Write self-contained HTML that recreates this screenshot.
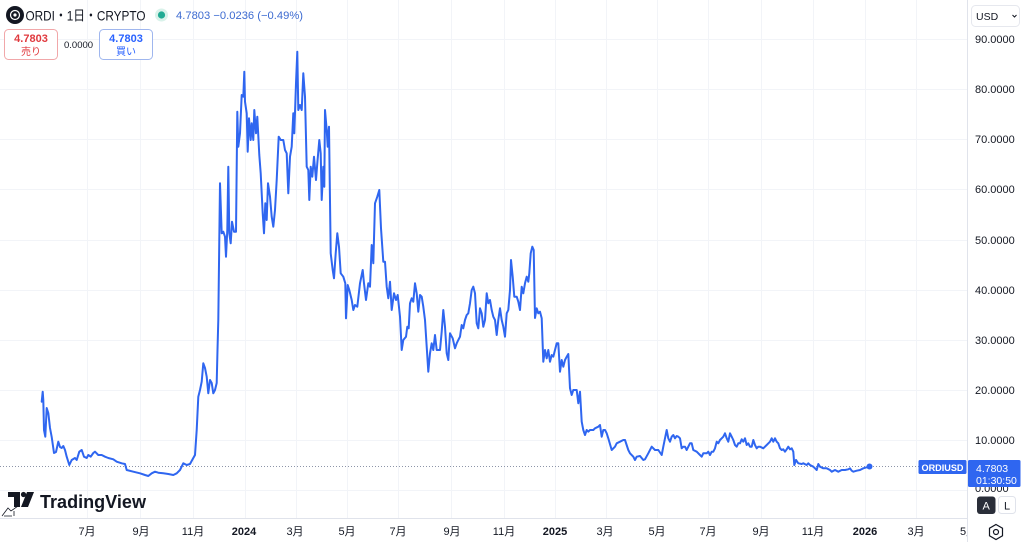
<!DOCTYPE html>
<html><head><meta charset="utf-8"><style>
html,body{margin:0;padding:0;background:#fff;}
svg{display:block;font-family:"Liberation Sans","Noto Sans CJK JP",sans-serif;}
</style></head><body>
<svg width="1024" height="542" viewBox="0 0 1024 542" xmlns="http://www.w3.org/2000/svg">
<rect width="1024" height="542" fill="#fff"/>
<!-- grid -->
<g stroke="#f2f4f8" stroke-width="1">
<line x1="0" y1="39.5" x2="967" y2="39.5"/><line x1="0" y1="89.5" x2="967" y2="89.5"/>
<line x1="0" y1="139.5" x2="967" y2="139.5"/><line x1="0" y1="189.5" x2="967" y2="189.5"/>
<line x1="0" y1="240.5" x2="967" y2="240.5"/><line x1="0" y1="290.5" x2="967" y2="290.5"/>
<line x1="0" y1="340.5" x2="967" y2="340.5"/><line x1="0" y1="390.5" x2="967" y2="390.5"/>
<line x1="0" y1="440.5" x2="967" y2="440.5"/><line x1="0" y1="490.5" x2="967" y2="490.5"/>
<line x1="87.5" y1="0" x2="87.5" y2="518"/><line x1="140.5" y1="0" x2="140.5" y2="518"/>
<line x1="193.5" y1="0" x2="193.5" y2="518"/><line x1="245.5" y1="0" x2="245.5" y2="518"/>
<line x1="296.5" y1="0" x2="296.5" y2="518"/><line x1="347.5" y1="0" x2="347.5" y2="518"/>
<line x1="398.5" y1="0" x2="398.5" y2="518"/><line x1="451.5" y1="0" x2="451.5" y2="518"/>
<line x1="504.5" y1="0" x2="504.5" y2="518"/><line x1="555.5" y1="0" x2="555.5" y2="518"/>
<line x1="606.5" y1="0" x2="606.5" y2="518"/><line x1="657.5" y1="0" x2="657.5" y2="518"/>
<line x1="708.5" y1="0" x2="708.5" y2="518"/><line x1="761.5" y1="0" x2="761.5" y2="518"/>
<line x1="813.5" y1="0" x2="813.5" y2="518"/><line x1="865.5" y1="0" x2="865.5" y2="518"/>
<line x1="916.5" y1="0" x2="916.5" y2="518"/>
</g>
<!-- axis separators -->
<line x1="967.5" y1="0" x2="967.5" y2="542" stroke="#e0e3eb"/>
<line x1="0" y1="518.5" x2="967" y2="518.5" stroke="#e0e3eb"/>
<!-- price dotted line -->
<line x1="0" y1="466.5" x2="919" y2="466.5" stroke="#8d95a8" stroke-width="1" stroke-dasharray="1,2"/>
<!-- series -->
<polyline fill="none" stroke="#2f66f0" stroke-width="2" stroke-linejoin="round" stroke-linecap="round" points="
41.7,401.7 42.7,391.7 43.3,400 44,430 45.3,436.7 46.7,408 48.3,413 50,428 51.7,437 54,453 56,452 58.3,441.7 60,447 61.7,448 63.3,446 65,450 66.7,456.7 69.3,465 71.7,460 75,458 76.7,460 79.3,451.7 81.7,450 84,456.7 86.7,458 88.3,455 90.7,456.7 93.3,453 95,451.7 98.3,455 101.7,455 105,456.7 108.3,458 113.3,459.3 116.7,461.7 121.7,463.3 125,464 126.7,470 133.3,471.7 140,473.3 145,475 148.3,476 151.7,473.3 155,471.7 158.3,472.7 163.3,473.3 168.3,474 173.3,475 176.7,473.3 180,470 183.3,463.3 186.7,465 190,464 193.3,458 195,455 196.7,430 198.3,396.7 200,390 201.7,381.7 203.3,363.3 205,368 206.7,376.7 208.3,393.3 210,380 211.7,383 213.3,393.3 215,390 216.7,383 217.5,350 218.3,320
220,183.3 221.7,233.3 223.3,231.7 225,236.7 226,256.7 227.3,230 228.3,166.7 229.3,233.3 230.7,243.3 232,221.7 234,231.7 236,231.7 237.3,111.7 238.3,146.7 240,133.3 241.7,95 243.3,96.7 244.3,71.7 245,101.7 246.7,113.3 247.7,151.7 249,118.3 250.7,140 251.7,123.3 253.3,140 254.3,110 256,133.3 257.3,116.7 259.3,155 260.7,173.3 262.7,213.3 264,233.3 265.3,203.3 266.7,220 268,183.3 270,196.7 271.7,216.7 273.3,226.7 275,210 276.7,180 278.7,136.7 280.7,140 283.3,140 285,150 286.7,153.3 288.3,193.3 290,156.7 291.7,146.7 293.3,113.3 294.3,133.3 296,83.3 297.3,51.7 298.3,110 300,105 301.7,110 303.3,73.3 305,96.7 306.7,166.7 308.3,170 309.3,200 310.7,166.7 312.3,176.7 314,156.7 316,180 317.3,163.3 319.3,140 320.7,153.3 321.7,200 323.3,166.7 324.3,186.7 325,110 326.7,130 327.7,146.7 329,126.7 330.7,253.3 332.7,270 334,278.3 335.7,253.3 337.3,233.3 339,246.7 340.7,273.3 343.3,276.7 345.3,283.3 346,318.3 347.7,285
349.3,290 351.7,300 353.3,310 355,305 357.3,306.7 360,283.3 362.7,270 364,283.3 366,300 368.3,283.3 370,286.7 371.7,245 373.3,263.3 375,203.3 377.3,196.7 379.3,190 381,228.3 383.3,261.7 385,261.7 386.7,286.7 388.3,298.3 390,281.7 391.7,310 394,293.3 396,300 397.7,295 400,316.7 401.7,350 403.3,340 406,336.7 407.3,326.7 408.7,328.3 410,303.3 411.7,298.3 413.3,301.7 415,283.3 416.7,293.3 418.3,311.7 420,295 421.7,296.7 423.3,306.7 425,320 426.7,346.7 428.3,371.7 430,353.3 431.7,343.3 433.3,350 435,335 436.7,350 438.3,350 440,350 441.7,331.7 443.3,310 445,326.7 446.7,353.3 448.3,360 450,333.3 452.7,338.3 455,348.3 456.7,343.3 458.3,340 460,336.7 461.7,325 463.3,328.3 465,320 466.7,315 468.3,313.3 470,303.3 471.7,290 473.3,286.7 475,293.3 476.7,323.3 478.3,328.3 480,308.3 481.7,313.3 483.3,326.7 485,320 486.7,293.3 488.3,303.3 490,300 491.7,310 493.3,316.7 495,320 496.7,335 498.3,320 500,308.3 501.7,320 503.3,326.7 505,336.7 506.7,313.3 508.3,310 510,290 511,260 512.7,276.7 514.3,296.7 516.7,296.7 518.3,301.7 520,310 521.7,286.7 523.3,293.3 525,283.3 526.7,276.7 528.3,281.7 529.3,273.3 530.7,253.3 532.3,246.7 533.7,250 535,318 536.7,308.3 538.3,313.3 540,311.7 541.7,318.3 543.3,361.7 545,350 546.7,358.3 548.3,350 550,361.7 551.7,355 553.3,356.7 556.7,343.3 558.3,343.3 560,371.7 561.7,360 563.3,366.7 565,360 566.7,356.7 568.3,354 570,388.3 571.7,395 573.3,390 576.7,390 578.3,403.3 580,391.7 581.7,421.7 583.3,430 585,435 586.7,430 588.3,431.7 590,430 593.3,430 595,428.3 598.3,426.7 600,425 601.7,436.7 603.3,430 605,430 606.7,433.3 608.3,438.3 611.7,450 615,446.7 616.7,443.3 620,441.7 623.3,440 625,440 628.3,450 630,453.3 633.3,456.7 635,460 636.7,456.7 640,456 643.3,460 645,459.3 648.3,453.3 651.7,446.7 655,450 658.3,450 661.7,455 663.3,446.7 665,438.3 666.7,430 668.3,438.3 670,441.7
671.7,436.7 673.3,435 675,438.3 676.7,436 678.3,436.7 680,438.3 681.7,448.3 683.3,446.7 685,446.7 686.7,450 688.3,446.7 690,443.3 691.7,443.3 693.3,450 696.7,451.7 700,455 701.7,456.7 703.3,453.3 706.7,453.3 708.3,451.7 710,455 711.7,451.7 713.3,451.7 715,448.3 716.7,441.7 718.3,443.3 720,440 721.7,438.3 723.3,436.7 725,433.3 726.7,438.3 728.3,441.7 730,433.3 731.7,436.7 733.3,440 735,445 736.7,446.7 738.3,443.3 740,443.3 741.7,439.3 743.3,441.7 745,438.3 746.7,445 748.3,443.3 750,446.7 751.7,446.7 753.3,440 755,445 756.7,448.3 758.3,446.7 760,446.7 763.3,448.3 766.7,445 770,441.7 771.7,438.3 773.3,441.7 775,438.3 776.7,441.7 778.3,443.3 780,448.3 781.7,450 783.3,449.3 785,451.7 786.7,449.3 788.3,446.7 790,449.3 791.7,448.3 793.3,451.7 794.3,465 796,460 798.3,463.3 801.7,464 803.3,463.3 806.7,465 808.3,463.3 810,465 813.3,466.7 815,468.3 816.7,470 818.3,464 820,466.7 823.3,468.3 826.7,468.3 830,470 831.7,471.7 835,470 838.3,471.7 841.7,470 845,470 848.3,469.3 850,468.3 851.7,470.7 853.3,471.7 856.7,470.7 860,470 863.3,468.3 866.7,467.3 869.5,466.5"/>
<circle cx="869.5" cy="466.5" r="3" fill="#2f66f0"/>

<!-- y axis labels -->
<g font-size="11" fill="#131722">
<text x="975" y="43">90.0000</text><text x="975" y="93">80.0000</text>
<text x="975" y="143">70.0000</text><text x="975" y="193">60.0000</text>
<text x="975" y="244">50.0000</text><text x="975" y="294">40.0000</text>
<text x="975" y="344">30.0000</text><text x="975" y="394">20.0000</text>
<text x="975" y="444">10.0000</text><text x="975" y="492">0.0000</text>
</g>
<!-- USD box -->
<rect x="971.5" y="5.5" width="48" height="21" rx="4" fill="#fff" stroke="#e6e8ee"/>
<text x="976" y="20" font-size="10.5" fill="#131722">USD</text>
<path d="M1012.5 15 l2 2 l2 -2" fill="none" stroke="#131722" stroke-width="1"/>

<!-- price labels -->
<rect x="918.5" y="460" width="48" height="14" rx="1.5" fill="#2f66f0"/>
<text x="942.5" y="471" font-size="9.5" font-weight="bold" fill="#fff" text-anchor="middle" textLength="42" lengthAdjust="spacingAndGlyphs">ORDIUSD</text>
<rect x="968" y="460" width="52.5" height="27" rx="1.5" fill="#2f66f0"/>
<text x="976" y="472" font-size="10.5" fill="#fff">4.7803</text>
<text x="976" y="484" font-size="10.5" fill="#fff">01:30:50</text>

<!-- A / L buttons -->
<rect x="977" y="496.5" width="18.5" height="17.5" rx="3" fill="#2a2e39"/>
<text x="986.2" y="509.5" font-size="11" fill="#fff" text-anchor="middle">A</text>
<rect x="998.5" y="496.5" width="17" height="17" rx="3" fill="#fff" stroke="#e0e3eb"/>
<text x="1007" y="509.5" font-size="11" fill="#131722" text-anchor="middle">L</text>

<!-- x axis labels -->
<g font-size="11" fill="#131722" text-anchor="middle">
<text x="87" y="535">7月</text><text x="141" y="535">9月</text><text x="193" y="535">11月</text>
<text x="244" y="535" font-weight="bold">2024</text><text x="295" y="535">3月</text>
<text x="347" y="535">5月</text><text x="398" y="535">7月</text><text x="452" y="535">9月</text>
<text x="504" y="535">11月</text><text x="555" y="535" font-weight="bold">2025</text>
<text x="605" y="535">3月</text><text x="657" y="535">5月</text><text x="708" y="535">7月</text>
<text x="761" y="535">9月</text><text x="813" y="535">11月</text>
<text x="865" y="535" font-weight="bold">2026</text><text x="916" y="535">3月</text>
</g>
<text x="960" y="535" font-size="11" fill="#131722">5月</text>
<rect x="968" y="519" width="56" height="23" fill="#fff"/>
<line x1="967.5" y1="519" x2="967.5" y2="542" stroke="#e0e3eb"/>
<polygon points="996,524.5 1002.5,528.2 1002.5,535.8 996,539.5 989.5,535.8 989.5,528.2" fill="none" stroke="#131722" stroke-width="1.2"/>
<circle cx="996" cy="532" r="2.5" fill="none" stroke="#131722" stroke-width="1.2"/>

<!-- TradingView logo -->
<g fill="#131722">
<path d="M8 492 H20 V507 H14 V497 H8 Z"/>
<circle cx="23.5" cy="494.5" r="2.6"/>
<path d="M27 492 H34 L28 507 H21 Z"/>
<text x="40" y="508" font-size="18.5" font-weight="bold" textLength="106" lengthAdjust="spacingAndGlyphs">TradingView</text>
</g>
<path d="M2 516 L8 508 L11 511 L18 506 M4 516 L12 516 M14 511 L14 516" fill="none" stroke="#131722" stroke-width="0.8"/>

<!-- header -->
<circle cx="15" cy="15" r="9" fill="#131722"/>
<circle cx="15" cy="15" r="4.5" fill="none" stroke="#fff" stroke-width="1.2"/>
<circle cx="15" cy="15" r="1.6" fill="#fff"/>
<text x="25.5" y="20.5" font-size="14" fill="#131722" textLength="120" lengthAdjust="spacingAndGlyphs">ORDI・1日・CRYPTO</text>
<circle cx="161.5" cy="15" r="6.5" fill="#d9f2ea"/>
<circle cx="161.5" cy="15" r="3.6" fill="#22ab94"/>
<text x="176" y="19" font-size="11" fill="#3d6bd1" textLength="127" lengthAdjust="spacingAndGlyphs">4.7803  −0.0236 (−0.49%)</text>

<rect x="4.5" y="29.5" width="53" height="30" rx="4" fill="#fff" stroke="#f1a7a9"/>
<text x="31" y="42" font-size="11" font-weight="bold" fill="#e0393e" text-anchor="middle">4.7803</text>
<text x="31" y="55" font-size="10" fill="#e0393e" text-anchor="middle">売り</text>
<text x="64" y="48" font-size="9.5" fill="#131722">0.0000</text>
<rect x="99.5" y="29.5" width="53" height="30" rx="4" fill="#fff" stroke="#9fb6ee"/>
<text x="126" y="42" font-size="11" font-weight="bold" fill="#2962ff" text-anchor="middle">4.7803</text>
<text x="126" y="55" font-size="10" fill="#2962ff" text-anchor="middle">買い</text>
</svg>
</body></html>
